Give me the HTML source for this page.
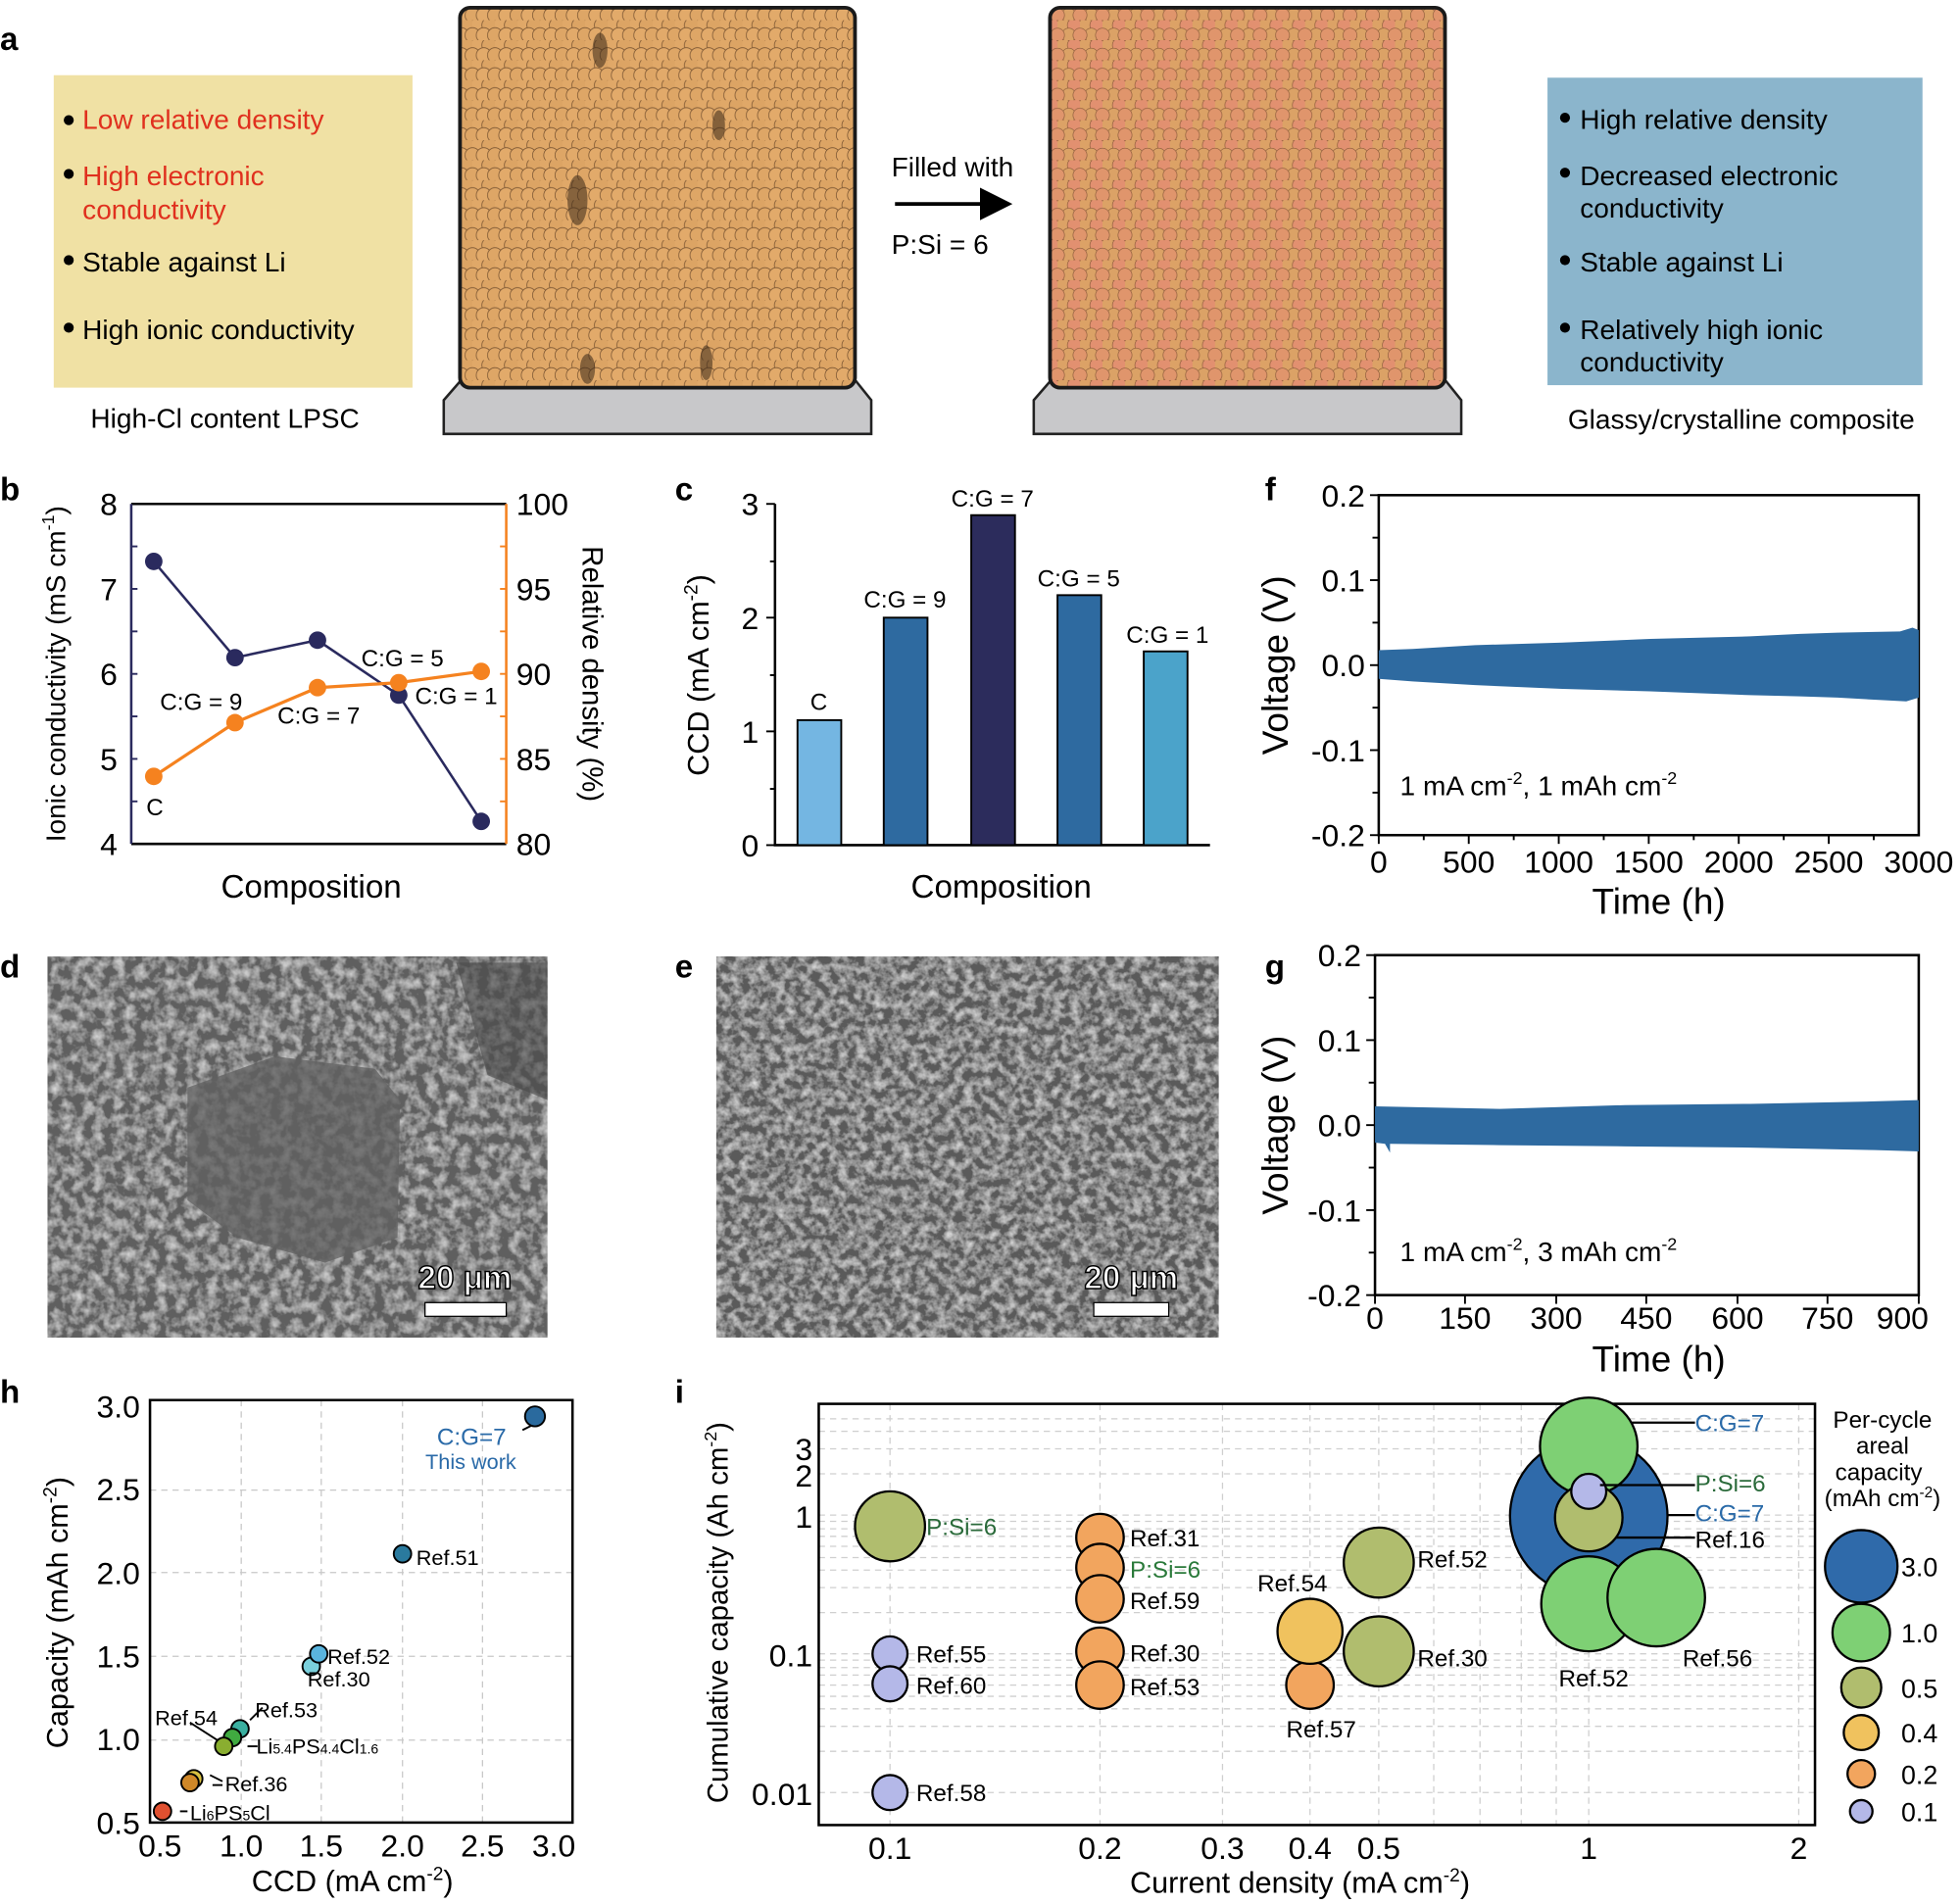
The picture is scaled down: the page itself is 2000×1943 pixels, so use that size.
<!DOCTYPE html>
<html><head><meta charset="utf-8"><style>
html,body{margin:0;padding:0;background:#fff}
svg{display:block}
text{font-family:"Liberation Sans",Arial,sans-serif}
</style></head><body>
<svg width="2000" height="1943" viewBox="0 0 1568 1523" xmlns="http://www.w3.org/2000/svg">
<defs>
<pattern id="grain" width="18" height="16" patternUnits="userSpaceOnUse">
<rect width="18" height="16" fill="#c98e52"/>
<circle cx="4.5" cy="4" r="6" fill="#e0a868" stroke="#7a5532" stroke-width="0.6"/>
<circle cx="13.5" cy="4" r="6" fill="#dca464" stroke="#7a5532" stroke-width="0.6"/>
<circle cx="0" cy="12" r="6" fill="#dea666" stroke="#7a5532" stroke-width="0.6"/>
<circle cx="9" cy="12" r="6" fill="#e2aa6a" stroke="#7a5532" stroke-width="0.6"/>
<circle cx="18" cy="12" r="6" fill="#dea666" stroke="#7a5532" stroke-width="0.6"/>
</pattern>
<pattern id="grain2" width="18" height="16" patternUnits="userSpaceOnUse">
<rect width="18" height="16" fill="#e07a62"/>
<circle cx="4.5" cy="4" r="5.6" fill="#dca266" stroke="#8a5a3a" stroke-width="0.5"/>
<circle cx="13.5" cy="4" r="5.6" fill="#e29070" stroke="#8a5a3a" stroke-width="0.5"/>
<circle cx="9" cy="12" r="5.6" fill="#dba266" stroke="#8a5a3a" stroke-width="0.5"/>
<circle cx="0" cy="12" r="5.6" fill="#e0956c" stroke="#8a5a3a" stroke-width="0.5"/>
<circle cx="18" cy="12" r="5.6" fill="#e0956c" stroke="#8a5a3a" stroke-width="0.5"/>
</pattern>
<filter id="semd" x="0" y="0" width="100%" height="100%">
<feTurbulence type="fractalNoise" baseFrequency="0.12" numOctaves="3" seed="3"/>
<feColorMatrix type="matrix" values="0 0 0 0 1  0 0 0 0 1  0 0 0 0 1  1.1 0 0 0 -0.42"/>
<feComposite in2="SourceGraphic" operator="over"/>
</filter>
<filter id="seme" x="0" y="0" width="100%" height="100%">
<feTurbulence type="fractalNoise" baseFrequency="0.14" numOctaves="3" seed="7"/>
<feColorMatrix type="matrix" values="0 0 0 0 1  0 0 0 0 1  0 0 0 0 1  1.2 0 0 0 -0.45"/>
<feComposite in2="SourceGraphic" operator="over"/>
</filter>
</defs>

<!-- ===== Panel a ===== -->
<text x="0" y="40" font-size="26" font-weight="bold">a</text>
<rect x="43" y="60" width="287" height="250" fill="#f0e1a4"/>
<g font-size="22">
<circle cx="55" cy="96" r="4"/><text x="66" y="103" fill="#e0301e">Low relative density</text>
<circle cx="55" cy="139" r="4"/><text x="66" y="148" fill="#e0301e">High electronic</text><text x="66" y="175" fill="#e0301e">conductivity</text>
<circle cx="55" cy="208" r="4"/><text x="66" y="217">Stable against Li</text>
<circle cx="55" cy="262" r="4"/><text x="66" y="271">High ionic conductivity</text>
</g>
<text x="180" y="342" font-size="22" text-anchor="middle">High-Cl content LPSC</text>

<polygon points="355,320 368,305 685,305 697,320 697,347 355,347" fill="#c8c8ca" stroke="#222" stroke-width="2"/>
<rect x="368" y="6" width="316" height="304" rx="8" fill="url(#grain)" stroke="#1a1a1a" stroke-width="3"/>
<g fill="#3a2818" opacity="0.55">
<ellipse cx="462" cy="160" rx="8" ry="20"/><ellipse cx="575" cy="100" rx="5" ry="12"/><ellipse cx="480" cy="40" rx="6" ry="14"/><ellipse cx="470" cy="295" rx="6" ry="12"/><ellipse cx="565" cy="290" rx="5" ry="14"/>
</g>

<text x="762" y="141" font-size="22" text-anchor="middle">Filled with</text>
<line x1="716" y1="163" x2="788" y2="163" stroke="#000" stroke-width="3"/>
<polygon points="784,150 810,163 784,176"/>
<text x="752" y="203" font-size="22" text-anchor="middle">P:Si = 6</text>

<polygon points="827,320 840,305 1157,305 1169,320 1169,347 827,347" fill="#c8c8ca" stroke="#222" stroke-width="2"/>
<rect x="840" y="6" width="316" height="304" rx="8" fill="url(#grain2)" stroke="#1a1a1a" stroke-width="3"/>

<rect x="1238" y="62" width="300" height="246" fill="#8bb5cc"/>
<g font-size="22">
<circle cx="1252" cy="94" r="4"/><text x="1264" y="103">High relative density</text>
<circle cx="1252" cy="138" r="4"/><text x="1264" y="148">Decreased electronic</text><text x="1264" y="174">conductivity</text>
<circle cx="1252" cy="208" r="4"/><text x="1264" y="217">Stable against Li</text>
<circle cx="1252" cy="262" r="4"/><text x="1264" y="271">Relatively high ionic</text><text x="1264" y="297">conductivity</text>
</g>
<text x="1393" y="343" font-size="22" text-anchor="middle">Glassy/crystalline composite</text>

<!-- ===== Panel b ===== -->
<text x="0" y="400" font-size="26" font-weight="bold">b</text>
<line x1="105" y1="403" x2="405" y2="403" stroke="#000" stroke-width="2"/>
<line x1="105" y1="675" x2="405" y2="675" stroke="#000" stroke-width="2"/>
<line x1="105" y1="403" x2="105" y2="675" stroke="#2a2a5e" stroke-width="2"/>
<line x1="405" y1="403" x2="405" y2="675" stroke="#f5821f" stroke-width="2"/>
<g stroke="#2a2a5e" stroke-width="1.5">
<line x1="105" y1="437" x2="110" y2="437"/><line x1="105" y1="471" x2="110" y2="471"/><line x1="105" y1="505" x2="110" y2="505"/><line x1="105" y1="539" x2="110" y2="539"/><line x1="105" y1="573" x2="110" y2="573"/><line x1="105" y1="607" x2="110" y2="607"/><line x1="105" y1="641" x2="110" y2="641"/>
</g>
<g stroke="#f5821f" stroke-width="1.5">
<line x1="400" y1="437" x2="405" y2="437"/><line x1="400" y1="471" x2="405" y2="471"/><line x1="400" y1="505" x2="405" y2="505"/><line x1="400" y1="539" x2="405" y2="539"/><line x1="400" y1="573" x2="405" y2="573"/><line x1="400" y1="607" x2="405" y2="607"/><line x1="400" y1="641" x2="405" y2="641"/>
</g>
<g font-size="25" text-anchor="end">
<text x="94" y="412">8</text><text x="94" y="480">7</text><text x="94" y="548">6</text><text x="94" y="616">5</text><text x="94" y="684">4</text>
</g>
<g font-size="25">
<text x="413" y="412">100</text><text x="413" y="480">95</text><text x="413" y="548">90</text><text x="413" y="616">85</text><text x="413" y="684">80</text>
</g>
<text transform="translate(52,539) rotate(-90)" font-size="22" text-anchor="middle">Ionic conductivity (mS cm<tspan font-size="14" dy="-9">-1</tspan><tspan dy="9">)</tspan></text>
<text transform="translate(466,539) rotate(90)" font-size="23" text-anchor="middle">Relative density (%)</text>
<polyline points="123,449 188,526 254,512 319,556 385,657" fill="none" stroke="#2a2a5e" stroke-width="2"/>
<polyline points="123,621 188,578 254,550 319,546 385,537" fill="none" stroke="#f5821f" stroke-width="2.5"/>
<g fill="#2a2a5e"><circle cx="123" cy="449" r="7"/><circle cx="188" cy="526" r="7"/><circle cx="254" cy="512" r="7"/><circle cx="319" cy="556" r="7"/><circle cx="385" cy="657" r="7"/></g>
<g fill="#f5821f"><circle cx="123" cy="621" r="7"/><circle cx="188" cy="578" r="7"/><circle cx="254" cy="550" r="7"/><circle cx="319" cy="546" r="7"/><circle cx="385" cy="537" r="7"/></g>
<g font-size="19">
<text x="117" y="652">C</text><text x="128" y="568">C:G = 9</text><text x="222" y="579">C:G = 7</text><text x="289" y="533">C:G = 5</text><text x="332" y="563">C:G = 1</text>
</g>
<text x="249" y="718" font-size="26" text-anchor="middle">Composition</text>

<!-- ===== Panel c ===== -->
<text x="540" y="400" font-size="26" font-weight="bold">c</text>
<line x1="620" y1="403" x2="620" y2="676" stroke="#000" stroke-width="2"/>
<line x1="619" y1="676" x2="968" y2="676" stroke="#000" stroke-width="2"/>
<g stroke="#000" stroke-width="1.5">
<line x1="613" y1="403" x2="620" y2="403"/><line x1="613" y1="494" x2="620" y2="494"/><line x1="613" y1="585" x2="620" y2="585"/><line x1="613" y1="676" x2="620" y2="676"/>
<line x1="616" y1="449" x2="620" y2="449"/><line x1="616" y1="540" x2="620" y2="540"/><line x1="616" y1="631" x2="620" y2="631"/>
</g>
<g font-size="25" text-anchor="end"><text x="607" y="412">3</text><text x="607" y="503">2</text><text x="607" y="594">1</text><text x="607" y="685">0</text></g>
<text transform="translate(567,540) rotate(-90)" font-size="24" text-anchor="middle">CCD (mA cm<tspan font-size="15" dy="-9">-2</tspan><tspan dy="9">)</tspan></text>
<g stroke="#000" stroke-width="1.5">
<rect x="638" y="576" width="35" height="100" fill="#74b6e2"/>
<rect x="707" y="494" width="35" height="182" fill="#2e6aa0"/>
<rect x="777" y="412" width="35" height="264" fill="#2c2c5c"/>
<rect x="846" y="476" width="35" height="200" fill="#2e6aa0"/>
<rect x="915" y="521" width="35" height="155" fill="#4ba3ca"/>
</g>
<g font-size="19" text-anchor="middle">
<text x="655" y="568">C</text><text x="724" y="486">C:G = 9</text><text x="794" y="405">C:G = 7</text><text x="863" y="469">C:G = 5</text><text x="934" y="514">C:G = 1</text>
</g>
<text x="801" y="718" font-size="26" text-anchor="middle">Composition</text>

<!-- ===== Panel f ===== -->
<text x="1012" y="400" font-size="26" font-weight="bold">f</text>
<rect x="1103" y="396" width="432" height="272" fill="none" stroke="#000" stroke-width="2"/>
<path d="M1103,520 L1130,519 L1180,516 L1250,514 L1320,511 L1400,509 L1440,507 L1470,506 L1520,505 L1530,502 L1535,504 L1535,558 L1525,561 L1470,558 L1440,557 L1400,556 L1320,553 L1250,551 L1180,548 L1130,545 L1103,543 Z" fill="#2e6aa0"/>
<g stroke="#000" stroke-width="1.5">
<line x1="1096" y1="396" x2="1103" y2="396"/><line x1="1098" y1="430" x2="1103" y2="430"/><line x1="1096" y1="464" x2="1103" y2="464"/><line x1="1098" y1="498" x2="1103" y2="498"/><line x1="1096" y1="532" x2="1103" y2="532"/><line x1="1098" y1="566" x2="1103" y2="566"/><line x1="1096" y1="600" x2="1103" y2="600"/><line x1="1098" y1="634" x2="1103" y2="634"/><line x1="1096" y1="668" x2="1103" y2="668"/>
<line x1="1103" y1="668" x2="1103" y2="675"/><line x1="1175" y1="668" x2="1175" y2="675"/><line x1="1247" y1="668" x2="1247" y2="675"/><line x1="1319" y1="668" x2="1319" y2="675"/><line x1="1391" y1="668" x2="1391" y2="675"/><line x1="1463" y1="668" x2="1463" y2="675"/>
<line x1="1139" y1="668" x2="1139" y2="672"/><line x1="1211" y1="668" x2="1211" y2="672"/><line x1="1283" y1="668" x2="1283" y2="672"/><line x1="1355" y1="668" x2="1355" y2="672"/><line x1="1427" y1="668" x2="1427" y2="672"/><line x1="1499" y1="668" x2="1499" y2="672"/>
</g>
<g font-size="25" text-anchor="end"><text x="1092" y="405">0.2</text><text x="1092" y="473">0.1</text><text x="1092" y="541">0.0</text><text x="1092" y="609">-0.1</text><text x="1092" y="677">-0.2</text></g>
<g font-size="25" text-anchor="middle"><text x="1103" y="698">0</text><text x="1175" y="698">500</text><text x="1247" y="698">1000</text><text x="1319" y="698">1500</text><text x="1391" y="698">2000</text><text x="1463" y="698">2500</text><text x="1535" y="698">3000</text></g>
<text transform="translate(1030,532) rotate(-90)" font-size="29" text-anchor="middle">Voltage (V)</text>
<text x="1327" y="731" font-size="29" text-anchor="middle">Time (h)</text>
<text x="1120" y="636" font-size="22">1 mA cm<tspan font-size="14" dy="-9">-2</tspan><tspan dy="9">, 1 mAh cm</tspan><tspan font-size="14" dy="-9">-2</tspan></text>

<!-- ===== Panel g ===== -->
<text x="1012" y="782" font-size="26" font-weight="bold">g</text>
<rect x="1100" y="764" width="435" height="272" fill="none" stroke="#000" stroke-width="2"/>
<path d="M1100,885 L1200,887 L1300,884 L1400,883 L1500,881 L1535,880 L1535,921 L1500,920 L1400,918 L1300,917 L1200,916 L1112,915 L1112,922 L1108,915 L1100,914 Z" fill="#2e6aa0"/>
<g stroke="#000" stroke-width="1.5">
<line x1="1093" y1="764" x2="1100" y2="764"/><line x1="1095" y1="798" x2="1100" y2="798"/><line x1="1093" y1="832" x2="1100" y2="832"/><line x1="1095" y1="866" x2="1100" y2="866"/><line x1="1093" y1="900" x2="1100" y2="900"/><line x1="1095" y1="934" x2="1100" y2="934"/><line x1="1093" y1="968" x2="1100" y2="968"/><line x1="1095" y1="1002" x2="1100" y2="1002"/><line x1="1093" y1="1036" x2="1100" y2="1036"/>
<line x1="1100" y1="1036" x2="1100" y2="1043"/><line x1="1172" y1="1036" x2="1172" y2="1043"/><line x1="1245" y1="1036" x2="1245" y2="1043"/><line x1="1317" y1="1036" x2="1317" y2="1043"/><line x1="1390" y1="1036" x2="1390" y2="1043"/><line x1="1462" y1="1036" x2="1462" y2="1043"/><line x1="1535" y1="1036" x2="1535" y2="1043"/>
</g>
<g font-size="25" text-anchor="end"><text x="1089" y="773">0.2</text><text x="1089" y="841">0.1</text><text x="1089" y="909">0.0</text><text x="1089" y="977">-0.1</text><text x="1089" y="1045">-0.2</text></g>
<g font-size="25" text-anchor="middle"><text x="1100" y="1063">0</text><text x="1172" y="1063">150</text><text x="1245" y="1063">300</text><text x="1317" y="1063">450</text><text x="1390" y="1063">600</text><text x="1462" y="1063">750</text><text x="1522" y="1063">900</text></g>
<text transform="translate(1030,900) rotate(-90)" font-size="29" text-anchor="middle">Voltage (V)</text>
<text x="1327" y="1097" font-size="29" text-anchor="middle">Time (h)</text>
<text x="1120" y="1009" font-size="22">1 mA cm<tspan font-size="14" dy="-9">-2</tspan><tspan dy="9">, 3 mAh cm</tspan><tspan font-size="14" dy="-9">-2</tspan></text>

<!-- ===== Panel d/e SEM ===== -->
<text x="0" y="782" font-size="26" font-weight="bold">d</text>
<text x="540" y="782" font-size="26" font-weight="bold">e</text>
<g filter="url(#semd)">
<rect x="38" y="765" width="400" height="305" fill="#5e5e5e"/>
</g>
<path d="M150,870 L220,845 L300,855 L320,880 L318,990 L260,1010 L190,990 L150,960 Z" fill="#606060" opacity="0.75"/>
<path d="M365,770 L438,770 L438,880 L390,860 Z" fill="#4a4a4a" opacity="0.6"/>
<g filter="url(#seme)">
<rect x="573" y="765" width="402" height="305" fill="#5a5a5a"/>
</g>
<rect x="340" y="1042" width="65" height="11" fill="#fff" stroke="#000"/>
<rect x="875" y="1042" width="60" height="11" fill="#fff" stroke="#000"/>
<g font-size="26" fill="#fff" stroke="#000" stroke-width="1.2" text-anchor="middle" font-weight="bold">
<text x="372" y="1031">20 μm</text><text x="905" y="1031">20 μm</text>
</g>

<!-- ===== Panel h ===== -->
<text x="0" y="1122" font-size="26" font-weight="bold">h</text>
<g stroke="#c8c8c8" stroke-width="1" stroke-dasharray="5,4">
<line x1="193" y1="1120" x2="193" y2="1458"/><line x1="257" y1="1120" x2="257" y2="1458"/><line x1="322" y1="1120" x2="322" y2="1458"/><line x1="386" y1="1120" x2="386" y2="1458"/>
<line x1="120" y1="1192" x2="458" y2="1192"/><line x1="120" y1="1258" x2="458" y2="1258"/><line x1="120" y1="1325" x2="458" y2="1325"/><line x1="120" y1="1392" x2="458" y2="1392"/>
</g>
<rect x="120" y="1120" width="338" height="338" fill="none" stroke="#000" stroke-width="2"/>
<g font-size="25" text-anchor="end"><text x="112" y="1134">3.0</text><text x="112" y="1200">2.5</text><text x="112" y="1267">2.0</text><text x="112" y="1334">1.5</text><text x="112" y="1400">1.0</text><text x="112" y="1467">0.5</text></g>
<g font-size="25" text-anchor="middle"><text x="128" y="1485">0.5</text><text x="193" y="1485">1.0</text><text x="257" y="1485">1.5</text><text x="322" y="1485">2.0</text><text x="386" y="1485">2.5</text><text x="443" y="1485">3.0</text></g>
<text transform="translate(54,1290) rotate(-90)" font-size="24" text-anchor="middle">Capacity (mAh cm<tspan font-size="15" dy="-9">-2</tspan><tspan dy="9">)</tspan></text>
<text x="282" y="1513" font-size="24" text-anchor="middle">CCD (mA cm<tspan font-size="15" dy="-9">-2</tspan><tspan dy="9">)</tspan></text>
<g stroke="#000" stroke-width="1.5">
<line x1="418" y1="1144" x2="432" y2="1137"/>
<line x1="152" y1="1378" x2="180" y2="1396"/>
<line x1="200" y1="1376" x2="210" y2="1366"/>
<line x1="198" y1="1397" x2="206" y2="1397"/>
<line x1="168" y1="1420" x2="178" y2="1425"/>
<line x1="170" y1="1428" x2="178" y2="1428"/>
<line x1="144" y1="1449" x2="150" y2="1449"/>
</g>
<g stroke="#000" stroke-width="1.5">
<circle cx="428" cy="1133" r="8" fill="#2a6a9e"/>
<circle cx="322" cy="1243" r="7" fill="#2a7a9e"/>
<circle cx="249" cy="1333" r="7" fill="#7ad0dc"/>
<circle cx="255" cy="1323" r="7" fill="#5ab4de"/>
<circle cx="192" cy="1383" r="7" fill="#3ab0a0"/>
<circle cx="186" cy="1390" r="7" fill="#40aa40"/>
<circle cx="179" cy="1397" r="7" fill="#8aae30"/>
<circle cx="155" cy="1423" r="7" fill="#d8c040"/>
<circle cx="152" cy="1426" r="7" fill="#d08828"/>
<circle cx="130" cy="1449" r="7" fill="#e05030"/>
</g>
<g font-size="17">
<text x="333" y="1252">Ref.51</text>
<text x="262" y="1331">Ref.52</text><text x="246" y="1349">Ref.30</text>
<text x="204" y="1374">Ref.53</text><text x="124" y="1380">Ref.54</text>
<text x="205" y="1403">Li<tspan font-size="11">5.4</tspan>PS<tspan font-size="11">4.4</tspan>Cl<tspan font-size="11">1.6</tspan></text>
<text x="180" y="1433">Ref.36</text>
<text x="152" y="1456">Li<tspan font-size="11">6</tspan>PS<tspan font-size="11">5</tspan>Cl</text>
</g>
<text x="405" y="1156" font-size="19" fill="#2a6aa8" text-anchor="end">C:G=7</text>
<text x="413" y="1175" font-size="17" fill="#2a6aa8" text-anchor="end">This work</text>

<!-- ===== Panel i ===== -->
<text x="540" y="1122" font-size="26" font-weight="bold">i</text>
<g stroke="#cfcfcf" stroke-width="1" stroke-dasharray="5,4">
<line x1="712" y1="1123" x2="712" y2="1460"/><line x1="880" y1="1123" x2="880" y2="1460"/><line x1="978" y1="1123" x2="978" y2="1460"/><line x1="1048" y1="1123" x2="1048" y2="1460"/><line x1="1103" y1="1123" x2="1103" y2="1460"/><line x1="1147" y1="1123" x2="1147" y2="1460"/><line x1="1184" y1="1123" x2="1184" y2="1460"/><line x1="1217" y1="1123" x2="1217" y2="1460"/><line x1="1245" y1="1123" x2="1245" y2="1460"/><line x1="1271" y1="1123" x2="1271" y2="1460"/><line x1="1439" y1="1123" x2="1439" y2="1460"/>
<line x1="655" y1="1434" x2="1452" y2="1434"/>
<line x1="655" y1="1401" x2="1452" y2="1401"/><line x1="655" y1="1381" x2="1452" y2="1381"/><line x1="655" y1="1367" x2="1452" y2="1367"/><line x1="655" y1="1357" x2="1452" y2="1357"/><line x1="655" y1="1348" x2="1452" y2="1348"/><line x1="655" y1="1340" x2="1452" y2="1340"/><line x1="655" y1="1334" x2="1452" y2="1334"/><line x1="655" y1="1328" x2="1452" y2="1328"/><line x1="655" y1="1323" x2="1452" y2="1323"/>
<line x1="655" y1="1290" x2="1452" y2="1290"/><line x1="655" y1="1270" x2="1452" y2="1270"/><line x1="655" y1="1256" x2="1452" y2="1256"/><line x1="655" y1="1246" x2="1452" y2="1246"/><line x1="655" y1="1237" x2="1452" y2="1237"/><line x1="655" y1="1229" x2="1452" y2="1229"/><line x1="655" y1="1223" x2="1452" y2="1223"/><line x1="655" y1="1217" x2="1452" y2="1217"/><line x1="655" y1="1212" x2="1452" y2="1212"/>
<line x1="655" y1="1179" x2="1452" y2="1179"/><line x1="655" y1="1159" x2="1452" y2="1159"/><line x1="655" y1="1145" x2="1452" y2="1145"/><line x1="655" y1="1135" x2="1452" y2="1135"/>
</g>
<rect x="655" y="1123" width="797" height="337" fill="none" stroke="#000" stroke-width="2"/>
<g font-size="25" text-anchor="end"><text x="650" y="1222">1</text><text x="650" y="1189">2</text><text x="650" y="1168">3</text><text x="650" y="1333">0.1</text><text x="650" y="1444">0.01</text></g>
<g font-size="25" text-anchor="middle"><text x="712" y="1487">0.1</text><text x="880" y="1487">0.2</text><text x="978" y="1487">0.3</text><text x="1048" y="1487">0.4</text><text x="1103" y="1487">0.5</text><text x="1271" y="1487">1</text><text x="1439" y="1487">2</text></g>
<text transform="translate(582,1290) rotate(-90)" font-size="23" text-anchor="middle">Cumulative capacity  (Ah cm<tspan font-size="14" dy="-9">-2</tspan><tspan dy="9">)</tspan></text>
<text x="1040" y="1514" font-size="24" text-anchor="middle">Current density (mA cm<tspan font-size="15" dy="-9">-2</tspan><tspan dy="9">)</tspan></text>
<g stroke="#000" stroke-width="1.8">
<circle cx="712" cy="1221" r="28" fill="#b0bd6e"/>
<circle cx="712" cy="1323" r="14" fill="#b4b8e8"/>
<circle cx="712" cy="1347" r="14" fill="#b4b8e8"/>
<circle cx="712" cy="1434" r="14" fill="#b4b8e8"/>
<circle cx="880" cy="1230" r="19" fill="#f2a55e"/>
<circle cx="880" cy="1254" r="19" fill="#f2a55e"/>
<circle cx="880" cy="1279" r="19" fill="#f2a55e"/>
<circle cx="880" cy="1321" r="19" fill="#f2a55e"/>
<circle cx="880" cy="1348" r="19" fill="#f2a55e"/>
<circle cx="1048" cy="1348" r="19" fill="#f2a55e"/>
<circle cx="1048" cy="1305" r="26" fill="#f0c25e"/>
<circle cx="1103" cy="1250" r="28" fill="#b0bd6e"/>
<circle cx="1103" cy="1321" r="28" fill="#b0bd6e"/>
<circle cx="1271" cy="1213" r="63" fill="#2f6aaa"/>
<circle cx="1271" cy="1157" r="39" fill="#7ed074"/>
<circle cx="1271" cy="1214" r="27" fill="#b0bd6e"/>
<circle cx="1271" cy="1193" r="14" fill="#b4b8e8"/>
<circle cx="1271" cy="1283" r="38" fill="#7ed074"/>
<circle cx="1325" cy="1278" r="39" fill="#7ed074"/>
<line x1="1305" y1="1138" x2="1356" y2="1138"/>
<line x1="1280" y1="1188" x2="1356" y2="1188"/>
<line x1="1334" y1="1212" x2="1356" y2="1212"/>
<line x1="1293" y1="1230" x2="1356" y2="1230"/>
</g>
<g font-size="19">
<text x="741" y="1228" fill="#2a6a3a">P:Si=6</text>
<text x="733" y="1330">Ref.55</text><text x="733" y="1355">Ref.60</text><text x="733" y="1441">Ref.58</text>
<text x="904" y="1237">Ref.31</text><text x="904" y="1262" fill="#2a7a3a">P:Si=6</text><text x="904" y="1287">Ref.59</text><text x="904" y="1329">Ref.30</text><text x="904" y="1356">Ref.53</text>
<text x="1006" y="1273">Ref.54</text><text x="1029" y="1390">Ref.57</text>
<text x="1134" y="1254">Ref.52</text><text x="1134" y="1333">Ref.30</text>
<text x="1356" y="1145" fill="#2a6aa8">C:G=7</text><text x="1356" y="1193" fill="#2a6a3a">P:Si=6</text><text x="1356" y="1217" fill="#2a6aa8">C:G=7</text><text x="1356" y="1238">Ref.16</text>
<text x="1247" y="1349">Ref.52</text><text x="1346" y="1333">Ref.56</text>
</g>
<g font-size="19" text-anchor="middle"><text x="1506" y="1142">Per-cycle</text><text x="1506" y="1163">areal</text><text x="1503" y="1184">capacity</text><text x="1506" y="1205">(mAh cm<tspan font-size="12" dy="-7">-2</tspan><tspan dy="7">)</tspan></text></g>
<g stroke="#000" stroke-width="1.8">
<circle cx="1489" cy="1253" r="29" fill="#2f6aaa"/>
<circle cx="1489" cy="1306" r="23" fill="#7ed074"/>
<circle cx="1489" cy="1350" r="16" fill="#b0bd6e"/>
<circle cx="1489" cy="1386" r="14" fill="#f0c25e"/>
<circle cx="1489" cy="1419" r="11" fill="#f2a55e"/>
<circle cx="1489" cy="1449" r="9" fill="#b4b8e8"/>
</g>
<g font-size="21"><text x="1521" y="1261">3.0</text><text x="1521" y="1314">1.0</text><text x="1521" y="1358">0.5</text><text x="1521" y="1394">0.4</text><text x="1521" y="1427">0.2</text><text x="1521" y="1457">0.1</text></g>
</svg>
</body></html>
